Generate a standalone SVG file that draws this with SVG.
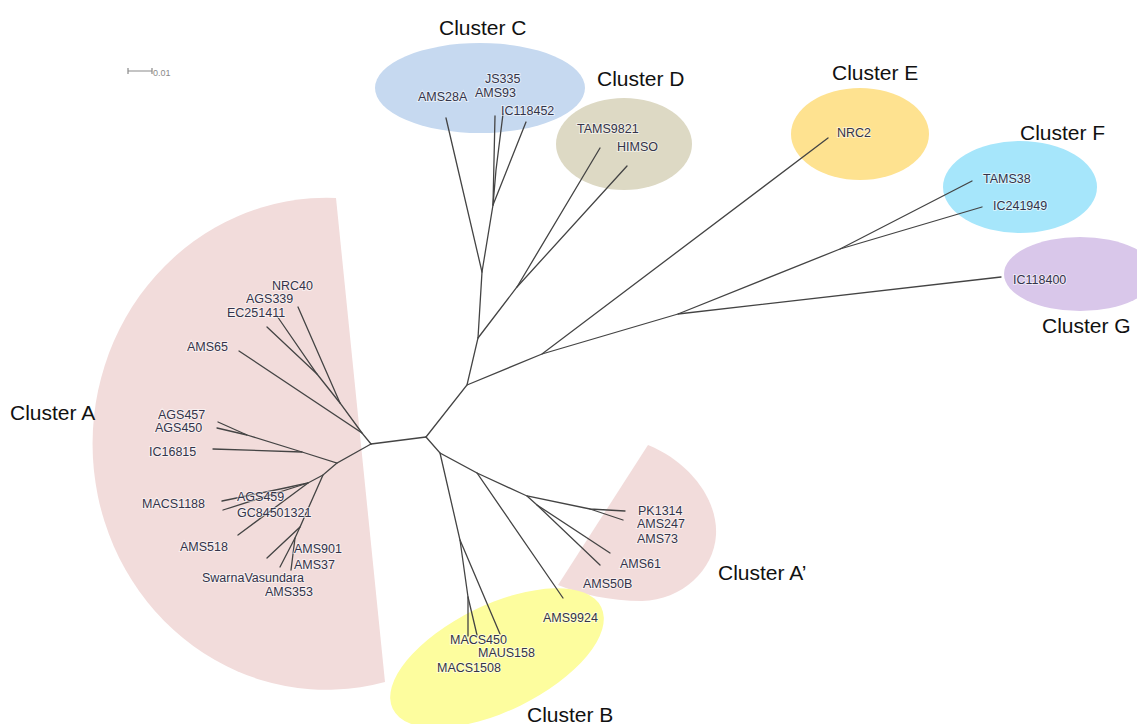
<svg xmlns="http://www.w3.org/2000/svg" width="1137" height="724" viewBox="0 0 1137 724">
  <style>
    .edge { stroke: #444444; stroke-width: 1.3; fill: none; stroke-linecap: round; }
    .tip { font-family: "Liberation Sans", Arial, sans-serif; font-size: 12.5px; fill: #34344a; stroke: #ffffff; stroke-width: 2; stroke-opacity: 0.55; paint-order: stroke; }
    .cluster { font-family: "Liberation Sans", Arial, sans-serif; font-size: 21px; fill: #111111; }
    .scale { stroke: #8a8a8a; stroke-width: 1.2; fill: none; }
  </style>

  <rect width="1137" height="724" fill="#ffffff"/>

  <!-- cluster regions -->
  <g id="cluster-a">
    <path d="M 336 198 A 234 246 0 1 0 385 682 Z" fill="#f2dcdb"/>
    <text class="cluster" x="10" y="420">Cluster A</text>
  </g>
  <g id="cluster-a-prime">
    <path d="M 648 445 C 690 462 718 500 716 535 C 714 570 682 600 642 601 C 610 601 580 594 558 585 Z" fill="#f2dcdb"/>
    <text class="cluster" x="718" y="580">Cluster A’</text>
  </g>
  <g id="cluster-b">
    <ellipse cx="497" cy="658" rx="116" ry="53" transform="rotate(-26 497 658)" fill="#fdfd9e"/>
    <text class="cluster" x="527" y="722">Cluster B</text>
  </g>
  <g id="cluster-c">
    <ellipse cx="480" cy="88" rx="105" ry="45" fill="#c6d9f0"/>
    <text class="cluster" x="439" y="35">Cluster C</text>
  </g>
  <g id="cluster-d">
    <ellipse cx="624" cy="144" rx="68" ry="46" fill="#ddd9c4"/>
    <text class="cluster" x="597" y="86">Cluster D</text>
  </g>
  <g id="cluster-e">
    <ellipse cx="860" cy="134" rx="69" ry="46" fill="#fee290"/>
    <text class="cluster" x="832" y="80">Cluster E</text>
  </g>
  <g id="cluster-f">
    <ellipse cx="1020" cy="187" rx="77" ry="46" fill="#a6e6fb"/>
    <text class="cluster" x="1020" y="140">Cluster F</text>
  </g>
  <g id="cluster-g">
    <ellipse cx="1080" cy="274" rx="76" ry="37" fill="#d9c7ea"/>
    <text class="cluster" x="1042" y="333">Cluster G</text>
  </g>

  <!-- scale bar -->
  <g id="scale-bar">
    <path class="scale" d="M 128 71 H 152 M 128 68 V 74 M 152 68 V 74"/>
    <text x="153" y="76" font-family="Liberation Sans, Arial, sans-serif" font-size="9" fill="#8a8a8a">0.01</text>
  </g>

  <!-- tree branches -->
  <g id="connectors">
    <!-- root split -->
    <path class="edge" d="M 426 437 L 371 444"/>
    <!-- cluster A, upper clade -->
    <path class="edge" d="M 371 444 L 362 433 L 239 351"/>
    <path class="edge" d="M 362 433 L 340 403 L 298 307"/>
    <path class="edge" d="M 340 403 L 317 374 L 277 316"/>
    <path class="edge" d="M 317 374 L 267 327"/>
    <!-- cluster A, lower clade -->
    <path class="edge" d="M 371 444 L 337 463 L 302 452 L 247 435 L 218 422"/>
    <path class="edge" d="M 247 435 L 217 428"/>
    <path class="edge" d="M 302 452 L 213 449"/>
    <path class="edge" d="M 337 463 L 323 475 L 308 483 L 285 488 L 222 501"/>
    <path class="edge" d="M 308 483 L 223 510"/>
    <path class="edge" d="M 308 483 L 238 535"/>
    <path class="edge" d="M 323 475 L 300 527 L 267 558"/>
    <path class="edge" d="M 300 527 L 295 538 L 280 567"/>
    <path class="edge" d="M 295 538 L 291 570"/>
    <!-- upper half: clusters C, D -->
    <path class="edge" d="M 426 437 L 467 385 L 478 338 L 482 272 L 446 118"/>
    <path class="edge" d="M 482 272 L 493 205 L 495 116"/>
    <path class="edge" d="M 493 205 L 496 170 L 503 114"/>
    <path class="edge" d="M 493 205 L 526 122"/>
    <path class="edge" d="M 478 338 L 517 287 L 600 148"/>
    <path class="edge" d="M 517 287 L 627 166"/>
    <!-- clusters E, F, G -->
    <path class="edge" d="M 467 385 L 542 354 L 828 138"/>
    <path class="edge" d="M 542 354 L 678 314 L 840 249 L 972 181"/>
    <path class="edge" d="M 840 249 L 982 207"/>
    <path class="edge" d="M 678 314 L 1001 277"/>
    <!-- lower half: clusters A', B -->
    <path class="edge" d="M 426 437 L 440 453 L 477 473 L 563 598"/>
    <path class="edge" d="M 477 473 L 527 496 L 590 509 L 625 511"/>
    <path class="edge" d="M 590 509 L 623 520"/>
    <path class="edge" d="M 527 496 L 537 505 L 610 553"/>
    <path class="edge" d="M 537 505 L 600 565"/>
    <path class="edge" d="M 440 453 L 460 540 L 468 597 L 468 636"/>
    <path class="edge" d="M 468 597 L 477 635"/>
    <path class="edge" d="M 460 540 L 500 634"/>
  </g>

  <!-- leaf labels -->
  <g id="leaf-labels">
    <text class="tip" x="272" y="290">NRC40</text>
    <text class="tip" x="246" y="303">AGS339</text>
    <text class="tip" x="227" y="317">EC251411</text>
    <text class="tip" x="187" y="351">AMS65</text>
    <text class="tip" x="158" y="419">AGS457</text>
    <text class="tip" x="155" y="432">AGS450</text>
    <text class="tip" x="149" y="456">IC16815</text>
    <text class="tip" x="142" y="508">MACS1188</text>
    <text class="tip" x="237" y="501">AGS459</text>
    <text class="tip" x="237" y="517">GC84501321</text>
    <text class="tip" x="180" y="551">AMS518</text>
    <text class="tip" x="294" y="553">AMS901</text>
    <text class="tip" x="294" y="569">AMS37</text>
    <text class="tip" x="202" y="582">SwarnaVasundara</text>
    <text class="tip" x="265" y="596">AMS353</text>

    <text class="tip" x="485" y="83">JS335</text>
    <text class="tip" x="418" y="101">AMS28A</text>
    <text class="tip" x="475" y="97">AMS93</text>
    <text class="tip" x="501" y="115">IC118452</text>
    <text class="tip" x="577" y="133">TAMS9821</text>
    <text class="tip" x="617" y="151">HIMSO</text>

    <text class="tip" x="837" y="137">NRC2</text>
    <text class="tip" x="983" y="183">TAMS38</text>
    <text class="tip" x="993" y="210">IC241949</text>
    <text class="tip" x="1013" y="284">IC118400</text>

    <text class="tip" x="638" y="515">PK1314</text>
    <text class="tip" x="637" y="528">AMS247</text>
    <text class="tip" x="637" y="543">AMS73</text>
    <text class="tip" x="620" y="568">AMS61</text>
    <text class="tip" x="583" y="588">AMS50B</text>

    <text class="tip" x="543" y="622">AMS9924</text>
    <text class="tip" x="450" y="644">MACS450</text>
    <text class="tip" x="478" y="657">MAUS158</text>
    <text class="tip" x="437" y="672">MACS1508</text>
  </g>
</svg>
